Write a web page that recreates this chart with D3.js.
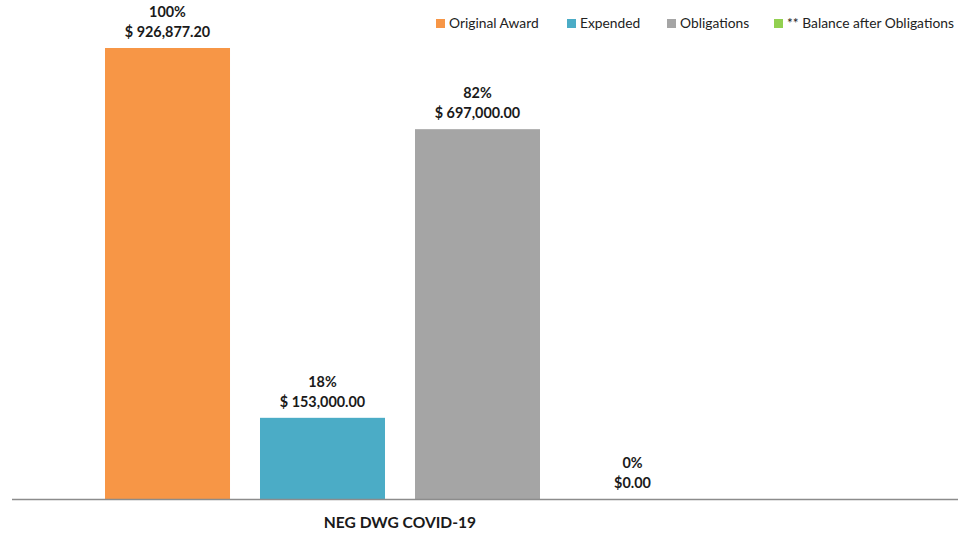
<!DOCTYPE html>
<html>
<head>
<meta charset="utf-8">
<script src="https://cdn.jsdelivr.net/npm/d3@7"></script>
<style>
  body { margin: 0; background: #fff; }
  svg { display: block; font-family: Lato, "Open Sans", sans-serif; }
  .lbl { font-size: 14.4px; font-weight: 700; fill: #1a1a1a; }
  .cat { font-size: 15.6px; font-weight: 700; fill: #1a1a1a; }
  .leg { font-size: 13.8px; fill: #222; }
</style>
</head>
<body>
<div id="chart"></div>
<script>
// Chart data
const categories = ["NEG DWG COVID-19"];
const series = ["Original Award", "Expended", "Obligations", "** Balance after Obligations"];
const percents = [100, 18, 82, 0];
const amounts = ["$ 926,877.20", "$ 153,000.00", "$ 697,000.00", "$0.00"];
const colors = ["#f79646", "#4bacc6", "#a5a5a5", "#92d050"];

const width = 958, height = 534;
const baseY = 499, topY = 48;

const svg = d3.select("#chart").append("svg")
  .attr("width", width).attr("height", height);

const y = d3.scaleLinear().domain([0, 100]).range([baseY, topY]);

// outer scale for the category, inner for the series
const x0 = d3.scaleBand().domain(categories).range([12, 788]);
const x1 = d3.scaleBand().domain(series)
  .range([93, x0.bandwidth() - 93])
  .paddingInner(0.1935).paddingOuter(0);

const g = svg.append("g");

categories.forEach(cat => {
  const cg = g.append("g").attr("transform", `translate(${x0(cat)},0)`);

  series.forEach((s, i) => {
    const bx = x1(s);
    const top = y(percents[i]);
    cg.append("rect")
      .attr("x", bx).attr("y", top)
      .attr("width", x1.bandwidth()).attr("height", baseY - top)
      .attr("fill", colors[i]);

    cg.append("text").attr("class", "lbl")
      .attr("x", bx + x1.bandwidth() / 2).attr("y", top - 31)
      .attr("text-anchor", "middle")
      .text(percents[i] + "%");
    cg.append("text").attr("class", "lbl")
      .attr("x", bx + x1.bandwidth() / 2).attr("y", top - 11)
      .attr("text-anchor", "middle")
      .text(amounts[i]);
  });

  // category label
  svg.append("text").attr("class", "cat")
    .attr("x", x0(cat) + x0.bandwidth() / 2).attr("y", 528)
    .attr("text-anchor", "middle")
    .text(cat);
});

// baseline
svg.append("line")
  .attr("x1", 12).attr("x2", width)
  .attr("y1", baseY + 0.5).attr("y2", baseY + 0.5)
  .attr("stroke", "#8c8c8c").attr("stroke-width", 1.5);

// legend
const legX = [436, 567, 667, 774];
const leg = svg.append("g");
series.forEach((s, i) => {
  leg.append("rect")
    .attr("x", legX[i]).attr("y", 19)
    .attr("width", 9).attr("height", 9)
    .attr("fill", colors[i]);
  leg.append("text").attr("class", "leg")
    .attr("x", legX[i] + 13).attr("y", 28)
    .text(s);
});
</script>
</body>
</html>
